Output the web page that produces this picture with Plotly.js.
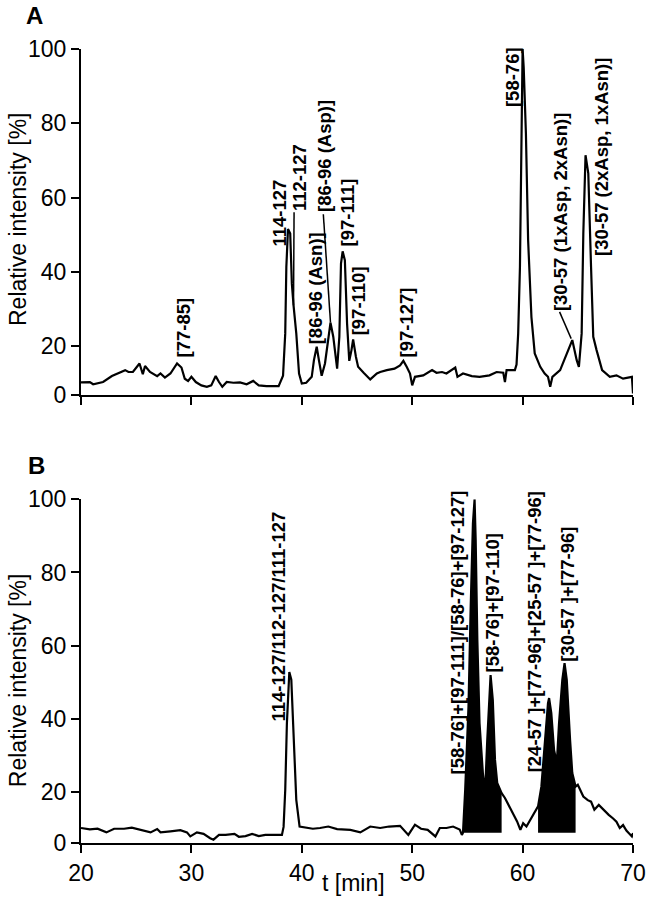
<!DOCTYPE html>
<html>
<head>
<meta charset="utf-8">
<script src="https://cdn.plot.ly/plotly-3.0.1.min.js"></script>
<style>
  body { margin: 0; background: #fff; }
  #graph { width: 649px; height: 900px; }
</style>
</head>
<body>
<div id="graph"></div>
<script>
// Panel A – chromatogram, t [min] vs relative intensity [%]
const timeA = [20.0, 20.8, 21.1, 22.0, 22.8, 23.5, 24.0, 24.3, 24.7, 25.3, 25.6, 25.8, 26.25, 26.9, 27.2, 27.6,
  28.1, 28.7, 29.1, 29.4, 29.7, 30.0, 30.4, 30.9, 31.4, 31.8, 32.2, 32.5, 32.8, 33.2, 33.8, 34.4, 35.0, 35.6,
  36.1, 36.8, 37.9, 38.3, 38.5, 38.6, 38.75, 38.95, 39.1, 39.25, 39.5, 39.75, 40.0, 40.4, 40.9, 41.1, 41.35,
  41.55, 41.8, 42.1, 42.4, 42.6, 42.85, 43.1, 43.2, 43.4, 43.55, 43.7, 43.9, 44.1, 44.3, 44.5, 44.65, 44.9,
  45.1, 45.6, 46.2, 46.8, 47.1, 47.7, 48.4, 48.9, 49.2, 49.5, 49.8, 50.0, 50.25, 51.0, 51.8, 52.2, 52.7, 53.1,
  53.6, 53.9, 54.1, 54.6, 55.4, 56.1, 57.0, 57.65, 58.25, 58.4, 58.55, 59.3, 59.45, 59.6, 59.76, 59.92, 60.0,
  60.1, 60.3, 60.5, 60.8, 61.1, 61.6, 62.0, 62.3, 62.5, 62.7, 63.4, 64.0, 64.5, 64.9, 65.1, 65.35, 65.5, 65.7,
  65.95, 66.2, 66.4, 66.7, 67.2, 67.9, 68.5, 69.1, 69.9, 70.0];
const intensityA = [10.2, 10.3, 9.7, 10.3, 11.9, 12.8, 13.5, 13.0, 13.0, 15.3, 12.4, 14.6, 13.0, 11.9, 12.6, 11.5,
  12.6, 15.3, 14.2, 11.2, 10.6, 11.7, 10.3, 9.4, 9.0, 9.4, 11.9, 10.3, 9.0, 10.3, 10.1, 10.2, 9.7, 10.6,
  9.4, 9.2, 9.2, 12.0, 23.4, 41.3, 51.5, 50.3, 36.8, 31.0, 23.4, 12.6, 9.9, 10.1, 11.7, 16.2, 19.8,
  16.2, 12.0, 15.3, 22.5, 26.3, 22.5, 15.3, 13.9, 22.5, 42.2, 45.5, 43.1, 26.1, 16.0, 18.9, 21.8, 17.1,
  14.4, 12.8, 11.0, 12.6, 13.0, 13.5, 13.9, 14.8, 16.0, 14.4, 12.6, 9.4, 11.7, 12.1, 13.5, 12.8, 13.0, 12.6,
  13.7, 14.2, 11.7, 12.6, 11.9, 11.7, 12.1, 13.0, 12.8, 10.3, 13.5, 13.5, 15.0, 23.4, 41.3, 77.3, 100.0,
  95.0, 77.3, 48.5, 27.8, 18.0, 14.4, 12.6, 11.7, 9.0, 11.7, 13.5, 18.0, 21.6, 16.2, 14.4, 23.4, 50.3, 71.4,
  66.5, 41.3, 22.5, 18.9, 13.5, 11.7, 12.1, 11.2, 11.7, 7.2];

// Panel B – chromatogram after treatment
const timeB = [20.0, 20.8, 21.5, 22.3, 23.0, 23.9, 24.6, 25.4, 26.3, 26.9, 27.2, 28.1, 29.0, 29.6, 29.9, 30.5,
  31.1, 31.7, 32.0, 32.5, 33.1, 33.9, 34.3, 34.9, 35.5, 36.1, 36.7, 37.4, 38.2, 38.35, 38.5, 38.65, 38.87,
  39.05, 39.3, 39.5, 39.8, 40.4, 41.0, 41.65, 42.4, 43.2, 44.4, 45.3, 46.2, 47.1, 47.9, 48.9, 49.65, 50.25,
  50.8, 51.4, 52.1, 52.5, 53.1, 53.7, 54.3, 54.5, 54.6, 54.8, 55.1, 55.3, 55.5, 55.65, 55.75, 55.9, 56.1,
  56.4, 56.6, 56.8, 57.0, 57.1, 57.3, 57.5, 57.7, 58.1, 58.4, 58.8, 59.15, 59.5, 59.8, 60.05, 60.35, 60.7,
  61.1, 61.4, 61.7, 62.0, 62.3, 62.4, 62.6, 62.85, 63.1, 63.3, 63.6, 63.8, 64.0, 64.3, 64.5, 64.8, 65.0,
  65.5, 65.9, 66.2, 66.5, 66.9, 67.3, 67.8, 68.2, 68.5, 68.8, 69.1, 69.4, 69.9, 70.0];
const intensityB = [10.2, 9.8, 10.0, 9.0, 10.0, 10.0, 10.3, 9.6, 9.0, 9.9, 9.0, 9.3, 9.6, 9.0, 7.9, 9.0,
  8.6, 7.4, 7.0, 8.3, 8.3, 8.6, 7.8, 8.0, 8.6, 8.0, 8.3, 8.3, 8.3, 10.5, 20.6, 38.8, 52.8,
  50.7, 34.3, 17.9, 10.6, 10.2, 10.0, 10.2, 10.6, 9.9, 9.7, 9.0, 10.6, 10.2, 10.6, 10.8, 8.3, 11.1,
  10.0, 9.7, 7.9, 10.2, 10.2, 10.6, 9.8, 8.3, 8.9, 20.6, 43.4, 70.7, 93.4, 100.0, 88.9, 61.6, 38.8,
  25.2, 19.7, 34.3, 47.9, 52.0, 45.2, 28.8, 22.5, 19.7, 18.4, 16.0, 14.3, 12.0, 9.7, 11.5, 10.6, 12.5,
  14.3, 16.1, 21.5, 34.3, 44.3, 45.7, 41.6, 31.5, 27.9, 38.8, 50.7, 55.2, 50.7, 34.3, 25.2, 21.5, 22.0,
  18.8, 17.8, 17.4, 15.2, 16.5, 15.2, 13.8, 12.8, 11.9, 10.2, 11.0, 9.5, 7.9, 8.8];
const fillRangesB = [[54.6, 58.1], [61.4, 64.8]];
const fillBaseB = 8.9;

// the "0" tick of each panel sits a little above true zero in the original figure
const yFloorA = 6.8;
const yFloorB = 6.1;
const yTickText = ['0', '20', '40', '60', '80', '100'];
const xTicks = [20, 30, 40, 50, 60, 70];

const labelsA = [
  { text: '[77-85]', t: 29.25, y: 16.7 },
  { text: '114-127', t: 38.0, y: 46.6 },
  { text: '112-127', t: 39.85, y: 56.0 },
  { text: '[86-96 (Asn)]', t: 41.2, y: 20.2 },
  { text: '[86-96 (Asp)]', t: 42.0, y: 55.8 },
  { text: '[97-111]', t: 44.05, y: 46.4 },
  { text: '[97-110]', t: 45.1, y: 22.5 },
  { text: '[97-127]', t: 49.45, y: 16.7 },
  { text: '[58-76]', t: 59.1, y: 84.0 },
  { text: '[30-57 (1xAsp, 2xAsn)]', t: 63.5, y: 29.2 },
  { text: '[30-57 (2xAsp, 1xAsn)]', t: 67.2, y: 44.0 }
];
const leadersA = [
  [39.3, 56.0, 39.25, 31.0],
  [41.95, 55.5, 42.6, 26.3],
  [63.35, 29.2, 64.4, 22.0]
];
const labelsB = [
  { text: '114-127/112-127/111-127', t: 37.9, y: 38.9 },
  { text: '[58-76]+[97-111]/[58-76]+[97-127]', t: 54.1, y: 24.7 },
  { text: '[58-76]+[97-110]', t: 57.3, y: 52.5 },
  { text: '[24-57 ]+[77-96]+[25-57 ]+[77-96]', t: 61.1, y: 25.2 },
  { text: '[30-57 ]+[77-96]', t: 64.0, y: 55.4 }
];

const FONT = 'Liberation Sans, Arial, Helvetica, sans-serif';

const traces = [];
fillRangesB.forEach(function (r) {
  const xs = [], ys = [];
  timeB.forEach(function (t, i) {
    if (t >= r[0] && t <= r[1]) { xs.push(t); ys.push(intensityB[i]); }
  });
  xs.push(r[1], r[0]);
  ys.push(fillBaseB, fillBaseB);
  traces.push({ x: xs, y: ys, xaxis: 'x2', yaxis: 'y2', mode: 'lines', fill: 'toself',
    fillcolor: '#000', line: { width: 0, color: '#000' }, hoverinfo: 'skip' });
});
traces.push({ x: timeA, y: intensityA, mode: 'lines', line: { color: '#000', width: 2.2 } });
traces.push({ x: timeB, y: intensityB, xaxis: 'x2', yaxis: 'y2', mode: 'lines', line: { color: '#000', width: 2.2 } });

function peakNote(l, xr, yr) {
  return { text: l.text, x: l.t, y: l.y, xref: xr, yref: yr, textangle: -90, showarrow: false,
    xanchor: 'center', yanchor: 'bottom', borderpad: 0,
    font: { family: FONT, size: 18.5, color: '#000', weight: 700 } };
}

const annotations = [];
labelsA.forEach(function (l) { annotations.push(peakNote(l, 'x', 'y')); });
labelsB.forEach(function (l) { annotations.push(peakNote(l, 'x2', 'y2')); });

const titleFont = { family: FONT, size: 23, color: '#000' };
const letterFont = { family: FONT, size: 24, color: '#000', weight: 700 };
annotations.push(
  { text: 'A', xref: 'paper', yref: 'y domain', x: 0, y: 1, xshift: -47, yshift: 34,
    xanchor: 'center', yanchor: 'middle', showarrow: false, font: letterFont },
  { text: 'B', xref: 'paper', yref: 'y2 domain', x: 0, y: 1, xshift: -45, yshift: 34,
    xanchor: 'center', yanchor: 'middle', showarrow: false, font: letterFont },
  { text: 'Relative intensity [%]', xref: 'paper', yref: 'y domain', x: 0, y: 0.5, xshift: -63, yshift: 2,
    xanchor: 'center', yanchor: 'middle', textangle: -90, showarrow: false, font: titleFont },
  { text: 'Relative intensity [%]', xref: 'paper', yref: 'y2 domain', x: 0, y: 0.5, xshift: -63, yshift: -10,
    xanchor: 'center', yanchor: 'middle', textangle: -90, showarrow: false, font: titleFont },
  { text: 't [min]', xref: 'x2 domain', yref: 'y2 domain', x: 0.5, y: 0, xshift: -4, yshift: -40,
    xanchor: 'center', yanchor: 'middle', showarrow: false, font: titleFont }
);

const shapes = leadersA.map(function (s) {
  return { type: 'line', xref: 'x', yref: 'y', x0: s[0], y0: s[1], x1: s[2], y1: s[3],
    line: { color: '#000', width: 1.5 } };
});

const axisBase = {
  showline: true, linecolor: '#000', linewidth: 2, showgrid: false, zeroline: false,
  ticks: 'outside', ticklen: 8, tickwidth: 2, tickcolor: '#000',
  tickfont: { family: FONT, size: 23, color: '#000' }
};

const layout = {
  width: 649, height: 900,
  margin: { l: 81, r: 16, t: 49, b: 57 },
  paper_bgcolor: '#fff', plot_bgcolor: '#fff',
  showlegend: false,
  xaxis: Object.assign({}, axisBase, { domain: [0, 1], anchor: 'y', range: [20, 70],
    tickvals: xTicks, showticklabels: false }),
  yaxis: Object.assign({}, axisBase, { domain: [0.5642, 1], anchor: 'x', range: [yFloorA, 100],
    tickvals: [yFloorA, 20, 40, 60, 80, 100], ticktext: yTickText }),
  xaxis2: Object.assign({}, axisBase, { domain: [0, 1], anchor: 'y2', range: [20, 70],
    tickvals: xTicks }),
  yaxis2: Object.assign({}, axisBase, { domain: [0, 0.4329], anchor: 'x2', range: [yFloorB, 100],
    tickvals: [yFloorB, 20, 40, 60, 80, 100], ticktext: yTickText }),
  annotations: annotations,
  shapes: shapes
};

Plotly.newPlot('graph', traces, layout, { staticPlot: true });
</script>
</body>
</html>
